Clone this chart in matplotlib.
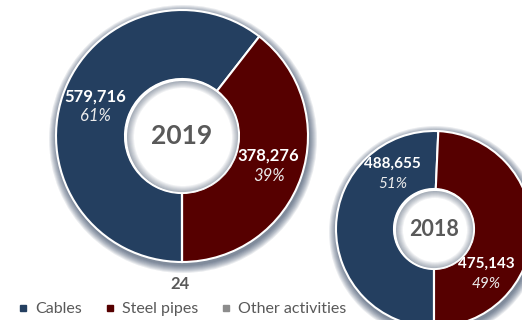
import matplotlib.pyplot as plt
from matplotlib.patches import Wedge
from matplotlib.lines import Line2D
import numpy as np

segments = ['Cables', 'Steel pipes', 'Other activities']
sales_2019 = [579716, 378276, 24]
sales_2018 = [488655, 475143, 0]
colors = ['#243f60', '#560000', '#8c8c8c']

plt.rcParams['font.family'] = ['Lato', 'DejaVu Sans']

W, H = 522, 320
fig = plt.figure(figsize=(W / 100, H / 100), dpi=100)
ax = fig.add_axes([0, 0, 1, 1])


def donut(values, year, cx, cy, r_out, r_in, year_size, num_size, label_angles=None):
    cy = H - cy
    # soft navy shadow round the outside of the ring
    for k in range(1, 9):
        ax.add_patch(Wedge((cx + 1, cy - 3), r_out + k, 0, 360, width=k + 4,
                           color='#14294a', alpha=0.09, lw=0, zorder=1))
    wedges, _ = ax.pie(values, radius=r_out, center=(cx, cy), startangle=-90,
                       counterclock=False, colors=colors,
                       wedgeprops=dict(width=r_out - r_in, edgecolor='white', linewidth=1.5))
    for w in wedges:
        w.set_zorder(2)
    # bevel inside the hole
    for k in range(1, 8):
        ax.add_patch(Wedge((cx + 1, cy - 1), r_in - 1, 0, 360, width=k,
                           color='#2c3e58', alpha=0.07, lw=0, zorder=3))
    ax.add_patch(Wedge((cx, cy), r_in + 0.5, 0, 360, width=1.4, color='white', lw=0, zorder=4))

    ax.text(cx, cy, year, ha='center', va='center', fontsize=year_size,
            fontweight='bold', color='#595959', zorder=5)

    total = sum(values)
    r_mid = (r_out + r_in) / 2
    for i in range(2):
        if label_angles is None:
            ang = np.deg2rad((wedges[i].theta1 + wedges[i].theta2) / 2)
        else:
            ang = np.deg2rad(label_angles[i])
        x = cx + r_mid * np.cos(ang)
        y = cy + r_mid * np.sin(ang)
        pct = round(100 * values[i] / total)
        ax.text(x, y + 10, f'{values[i]:,}', ha='center', va='center', fontsize=num_size,
                fontweight='bold', color='white', zorder=5)
        ax.text(x, y - 10, f'{pct}%', ha='center', va='center', fontsize=num_size,
                style='italic', color='#ececec', zorder=5)
    return wedges


donut(sales_2019, '2019', 182, 136, 126, 57, 19, 12)
# the tiny "other" slice gets its value just below the ring
ax.text(180, H - 284, f'{sales_2019[2]:,}', ha='center', va='center', fontsize=12,
        fontweight='bold', color='#595959')

donut(sales_2018, '2018', 434, 229, 98, 40, 15.5, 11, label_angles=[127, -41])

handles = [Line2D([], [], marker='s', ls='', color=c, markersize=5) for c in colors]
ax.legend(handles, segments, loc='center left', bbox_to_anchor=(0.023, (H - 309) / H),
          ncol=3, frameon=False, fontsize=11.5, handlelength=0.6, handletextpad=0.45,
          columnspacing=1.45, labelcolor='#595959', borderaxespad=0)

ax.set_xlim(0, W)
ax.set_ylim(0, H)
ax.set_aspect('equal')
ax.axis('off')

fig.savefig('out.png', dpi=100)
